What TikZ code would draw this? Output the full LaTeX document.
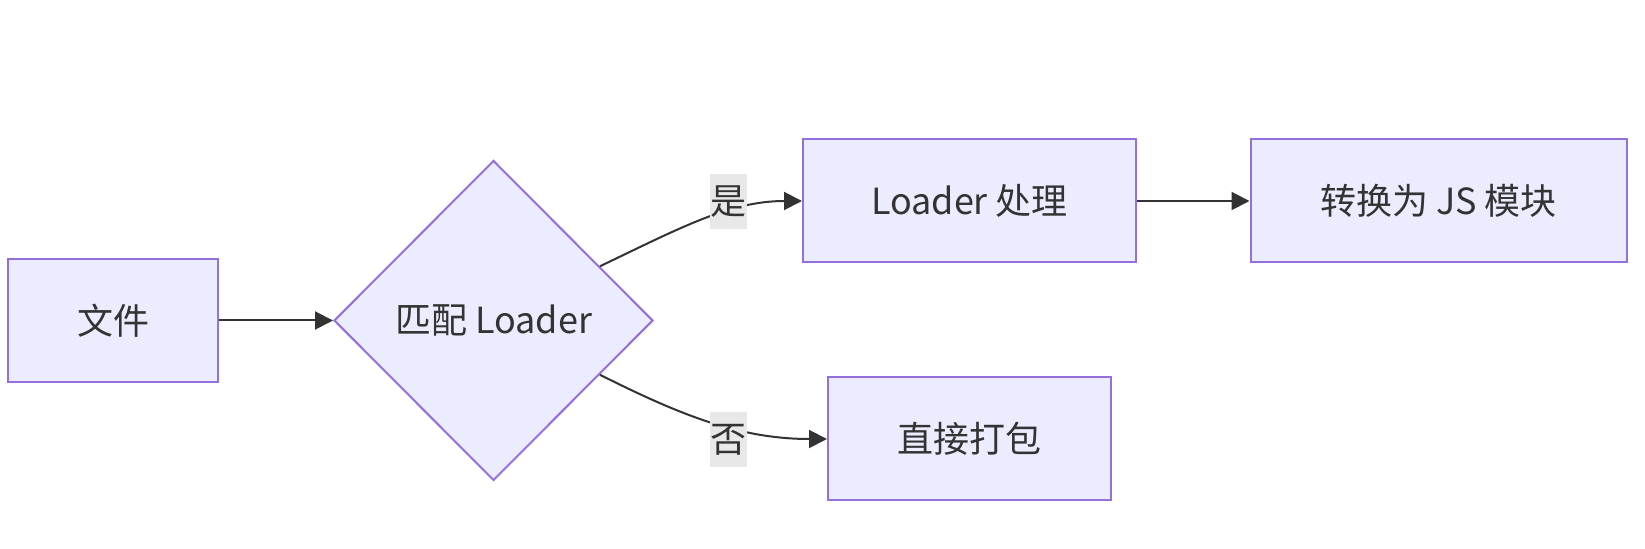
\documentclass[tikz,border=0pt]{standalone}
\usepackage{fontspec}
\newfontfamily\cjk{Noto Sans CJK SC}
\usetikzlibrary{shapes.geometric,arrows.meta}
\definecolor{boxfill}{HTML}{ECECFF}
\definecolor{boxline}{HTML}{9370DB}
\definecolor{ink}{HTML}{333333}
\definecolor{labelbg}{HTML}{E8E8E8}

\begin{document}
\begin{tikzpicture}[x=0.5pt,y=-0.5pt,
  every node/.style={text=ink, font=\cjk\fontsize{18}{22}\selectfont},
  box/.style={draw=boxline, fill=boxfill, line width=1pt, minimum height=61.5pt, inner sep=0pt},
  choice/.style={diamond, aspect=1, draw=boxline, fill=boxfill, line width=1pt, minimum width=159.5pt, minimum height=160pt, inner sep=0pt},
  elabel/.style={fill=labelbg, inner sep=0pt, minimum width=18.5pt, minimum height=27.5pt},
  link/.style={draw=ink, line width=1pt, -{Triangle[length=9pt,width=9pt]}}]

\useasboundingbox (0,0) rectangle (1645,549);

\node[box, minimum width=105pt] (file) at (113,320.5) {文件};
\node[choice] (match) at (493.5,320.5) {匹配 Loader};
\node[box, minimum width=166.5pt] (loader) at (969.5,201) {Loader 处理};
\node[box, minimum width=188pt] (convert) at (1438.5,201) {转换为 JS 模块};
\node[box, minimum width=141.5pt] (bundle) at (969.5,439) {直接打包};

\draw[link] (file.east) -- (match.west);
\draw[link] (match.27) .. controls (680,228) and (730,201) .. (loader.west);
\draw[link] (match.-27) .. controls (680,415) and (740,439) .. (bundle.west);
\draw[link] (loader.east) -- (convert.west);

\node[elabel] (yes) at (728,201.5) {是};
\node[elabel] (no) at (728,439.5) {否};

\end{tikzpicture}
\end{document}
